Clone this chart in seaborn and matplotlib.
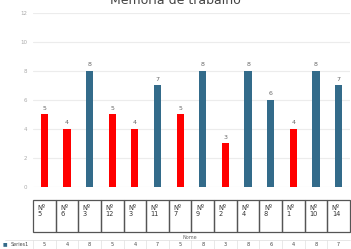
import numpy as np
import pandas as pd
import matplotlib
matplotlib.use("Agg")
import matplotlib.pyplot as plt
import matplotlib.transforms as mtransforms
import seaborn as sns

# data
names = ["Nº\n5", "Nº\n6", "Nº\n3", "Nº\n12", "Nº\n3", "Nº\n11", "Nº\n7",
         "Nº\n9", "Nº\n2", "Nº\n4", "Nº\n8", "Nº\n1", "Nº\n10", "Nº\n14"]
values = [5, 4, 8, 5, 4, 7, 5, 8, 3, 8, 6, 4, 8, 7]
series_name = "Series1"

red = "#ff0000"
blue = "#336b8a"

df = pd.DataFrame({"pos": [str(i) for i in range(len(values))], "value": values})
colors = [red if v <= 5 else blue for v in values]

sns.set_style("white")
plt.rcParams["font.family"] = ["DejaVu Sans"]

fig = plt.figure(figsize=(3.51, 2.49), dpi=100)
ax = fig.add_axes([0.094, 0.249, 0.903, 0.699])

sns.barplot(data=df, x="pos", y="value", hue="pos", palette=colors,
            legend=False, width=0.32, dodge=False, ax=ax, saturation=1,
            linewidth=0)

ax.set_ylim(0, 12)
ax.set_xlim(-0.5, len(values) - 0.5)
ax.set_yticks(range(0, 13, 2))
ax.tick_params(axis="y", labelsize=4, colors="#aaaaaa", length=0, pad=4)
ax.set_xticks([])
ax.set_xlabel("")
ax.set_ylabel("")
ax.yaxis.grid(True, color="#ececec", linewidth=0.8)
ax.set_axisbelow(True)
for s in ax.spines.values():
    s.set_visible(False)

for i, v in enumerate(values):
    ax.text(i, v + 0.25, str(v), ha="center", va="bottom", fontsize=4.5,
            color="#666666")

# name boxes under the chart
trans = mtransforms.blended_transform_factory(ax.transData, fig.transFigure)
box_top = 1 - 200 / 249
box_bot = 1 - 232 / 249
for i, name in enumerate(names):
    ax.add_patch(plt.Rectangle((i - 0.5, box_bot), 1, box_top - box_bot,
                               transform=trans, fill=False, edgecolor="#555555",
                               linewidth=0.9, clip_on=False))
    ax.text(i - 0.3, box_top - 0.02, name, transform=trans, ha="left",
            va="top", fontsize=4.8, color="#333333", linespacing=1.0)

fig.text(0.54, 1 - 237 / 249, "Nome", ha="center", va="center", fontsize=3.5,
         color="#666666")

# data table row
row_y = 1 - 244 / 249
ax.plot([-1.75, len(values) - 0.5], [1 - 240 / 249] * 2, transform=trans,
        color="#dddddd", linewidth=0.5, clip_on=False)
for i, v in enumerate(values):
    ax.text(i, row_y, str(v), transform=trans, ha="center", va="center",
            fontsize=3.5, color="#444444")
    ax.plot([i - 0.5, i - 0.5], [1 - 240 / 249, 0], transform=trans,
            color="#e0e0e0", linewidth=0.5, clip_on=False)
fig.text(0.008, row_y, "■", ha="left", va="center", fontsize=3.5, color=blue)
fig.text(0.03, row_y, series_name, ha="left", va="center", fontsize=3.5,
         color="#444444")

fig.text(0.5, 1 - 1 / 249, "Memória de trabalho", ha="center", va="center",
         fontsize=9, color="#444444")

fig.savefig("out.png", dpi=100)
